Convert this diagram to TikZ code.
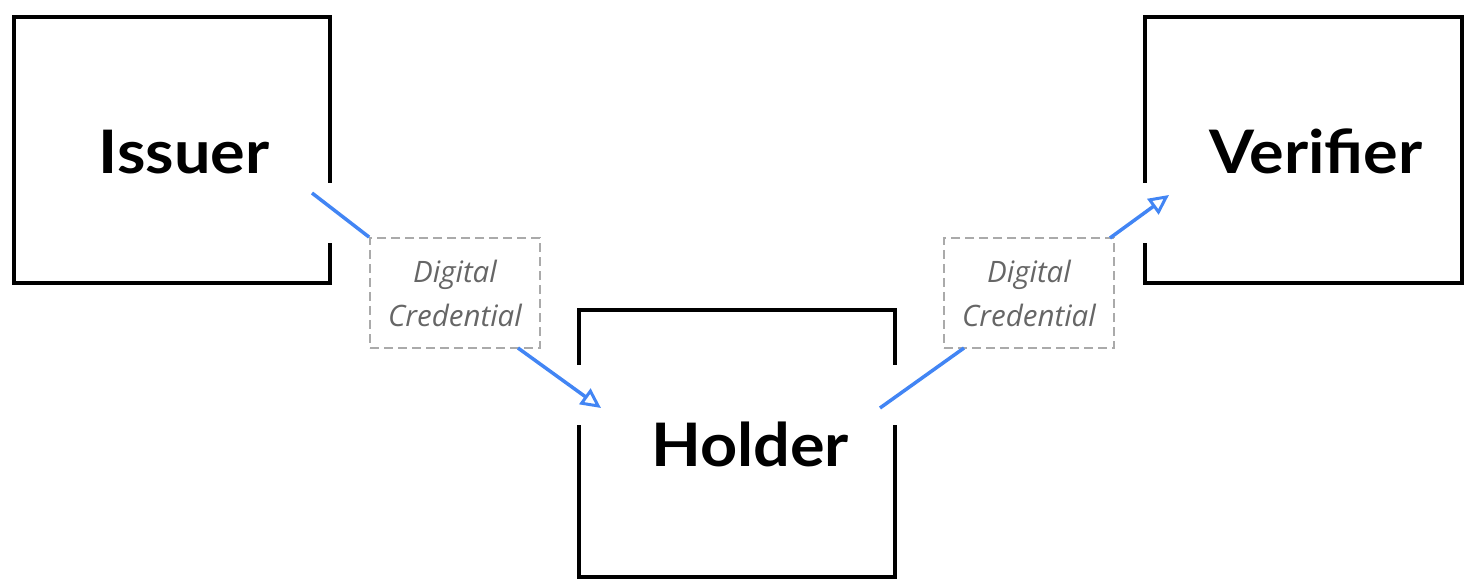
\documentclass[tikz,border=0pt]{standalone}
\usepackage{fontspec}
\newfontfamily\labfont{Lato}[FakeStretch=1.08]
\newfontfamily\credfont{Open Sans}
\usetikzlibrary{arrows.meta,calc}
\definecolor{flowblue}{HTML}{4285F4}
\definecolor{credgray}{HTML}{666666}
\definecolor{dashgray}{HTML}{AAAAAA}
\begin{document}
\begin{tikzpicture}[x=1pt,y=-1pt,
 party/.style={draw=none, minimum width=316pt, minimum height=266pt, inner sep=0pt},
 partyline/.style={line width=4pt, black},
 partytext/.style={font=\labfont\bfseries\fontsize{60}{62}\selectfont, anchor=base, inner sep=0pt},
 cred/.style={draw=dashgray, dash pattern=on 9pt off 5pt, line width=1.8pt, minimum width=170pt, minimum height=110pt, inner sep=0pt, align=center, text=credgray, font=\credfont\itshape\fontsize{29.5}{44}\selectfont},
 flow/.style={flowblue, line width=3.5pt, -{Triangle[open, length=20pt, width=19pt, line width=3pt]}},
 flowplain/.style={flowblue, line width=3.5pt}
]
\path[use as bounding box] (0,0) rectangle (1476,588);

\node[party] (issuer) at (172,150) {};
\node[party, minimum height=267pt] (holder) at (737,443.5) {};
\node[party] (verifier) at (1303.5,150) {};

\node[partytext] (issuerlabel) at (184,174) {Issuer};
\node[partytext] (holderlabel) at (750,466) {Holder};
\node[partytext] (verifierlabel) at (1316,174) {Verifier};

\draw[partyline] ($(issuer.north east)+(0,166)$) -- (issuer.north east) -- (issuer.north west) -- (issuer.south west) -- (issuer.south east) -- ($(issuer.south east)+(0,-40)$);
\draw[partyline] ($(holder.north west)+(0,55)$) -- (holder.north west) -- (holder.north east) -- ($(holder.north east)+(0,55)$);
\draw[partyline] ($(holder.south west)+(0,-152)$) -- (holder.south west) -- (holder.south east) -- ($(holder.south east)+(0,-152)$);
\draw[partyline] ($(verifier.north west)+(0,166)$) -- (verifier.north west) -- (verifier.north east) -- (verifier.south east) -- (verifier.south west) -- ($(verifier.south west)+(0,-40)$);

\node[cred] (cred1) at (455,293) {Digital\\Credential};
\node[cred] (cred2) at (1029,293) {Digital\\Credential};

\coordinate (issuerout) at (312,193);
\coordinate (cred1out) at (518,348);
\coordinate (holderin) at (601,408);
\coordinate (holderout) at (880,408);
\coordinate (cred2in) at (964,348);
\coordinate (cred2out) at (1110,238);
\coordinate (verifierin) at (1169,195);

\draw[flowplain] (issuerout) -- (cred1.north west);
\draw[flow] (cred1out) -- (holderin);
\draw[flowplain] (holderout) -- (cred2in);
\draw[flow] (cred2out) -- (verifierin);
\end{tikzpicture}
\end{document}
